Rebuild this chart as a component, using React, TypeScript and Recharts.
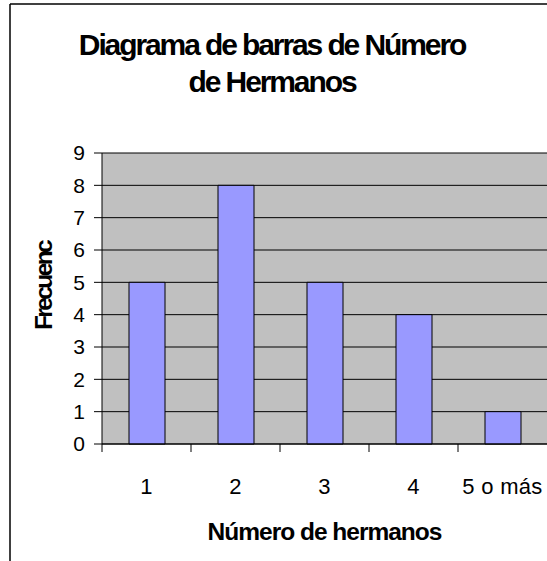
import { BarChart, Bar, XAxis, YAxis, CartesianGrid } from 'recharts';

const categories = ['1', '2', '3', '4', '5 o más'];
const frecuencias = [5, 8, 5, 4, 1];
const yTicks = [0, 1, 2, 3, 4, 5, 6, 7, 8, 9];

const titleLines = ['Diagrama de barras de Número', 'de Hermanos'];
const xTitle = 'Número de hermanos';
const yTitle = 'Frecuenc';

const data = categories.map((c, i) => ({ cat: c, value: frecuencias[i] }));

const FONT = '"Liberation Sans", Arial, sans-serif';

function CatTick(props: any) {
  const { x, y, payload } = props;
  const half = payload?.offset ?? 44.5;
  const axisY = y - 10;
  return (
    <g>
      <line x1={x - half} x2={x - half} y1={axisY} y2={axisY + 8} stroke="#000" />
      <text x={x} y={axisY + 50} textAnchor="middle" fontFamily={FONT} fontSize={22}
        letterSpacing={0.3} fill="#000">
        {payload.value}
      </text>
    </g>
  );
}

export default function App() {
  return (
    <div style={{ position: 'absolute', left: 0, top: 0, width: 547, height: 561, background: '#fff' }}>
      <BarChart width={547} height={561} data={data}
        margin={{ top: 153, right: 0, left: 42, bottom: 17 }}>
        <CartesianGrid vertical={false} stroke="#000" fill="#c0c0c0" fillOpacity={1} />
        <XAxis dataKey="cat" height={100} tickLine={false} tickSize={8} tickMargin={2}
          axisLine={{ stroke: '#000' }} tick={<CatTick />} interval={0}
          label={{
            content: (p: any) => (
              <text x={p.viewBox.x + p.viewBox.width / 2} y={540} textAnchor="middle"
                fontFamily={FONT} fontWeight="bold" fontSize={24.5} letterSpacing={-1} fill="#000">
                {xTitle}
              </text>
            ),
          }} />
        <YAxis width={60} domain={[0, 9]} ticks={yTicks} interval={0} tickSize={8} tickMargin={9}
          axisLine={{ stroke: '#000' }} tickLine={{ stroke: '#000' }}
          tick={{ fontFamily: FONT, fontSize: 21, fill: '#000' }}
          label={{
            content: () => (
              <text x={52} y={286} transform="rotate(-90 52 286)" textAnchor="middle"
                fontFamily={FONT} fontWeight="bold" fontSize={24.5} letterSpacing={-2.6} fill="#000">
                {yTitle}
              </text>
            ),
          }} />
        <Bar dataKey="value" fill="#9999ff" stroke="#000" strokeWidth={1} barSize={36}
          isAnimationActive={false} />
      </BarChart>
      <svg width={547} height={561} style={{ position: 'absolute', left: 0, top: 0, pointerEvents: 'none' }}>
        <line x1={10} y1={4} x2={547} y2={4} stroke="#000" strokeWidth={1.5} />
        <line x1={10} y1={4} x2={10} y2={561} stroke="#000" strokeWidth={1.5} />
        {titleLines.map((t, i) => (
          <text key={t} x={272} y={55 + i * 36.7} textAnchor="middle" fontFamily={FONT}
            fontWeight="bold" fontSize={30} letterSpacing={-2.1} fill="#000">
            {t}
          </text>
        ))}
      </svg>
    </div>
  );
}
